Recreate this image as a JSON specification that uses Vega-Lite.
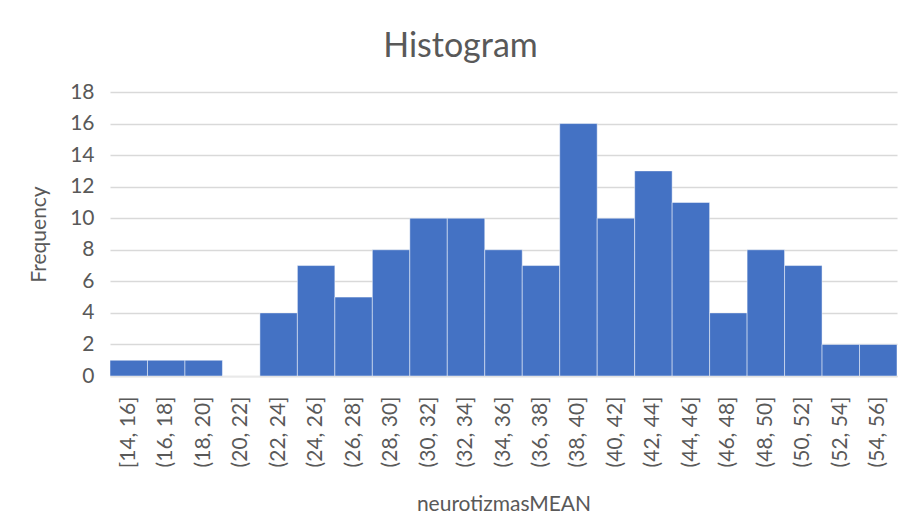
{
  "$schema": "https://vega.github.io/schema/vega-lite/v6.json",
  "autosize": "none",
  "width": 787,
  "height": 284,
  "padding": {"left": 110, "top": 92, "right": 6, "bottom": 152},
  "background": "white",
  "config": {"view": {"stroke": null}, "font": "Lato"},
  "title": {"text": "Histogram", "fontSize": 34, "font": "Lato", "fontWeight": "normal", "color": "#595959", "anchor": "middle", "dx": -43, "offset": 17},
  "data": {"values": [
    {"bin": "[14, 16]", "count": 1},
    {"bin": "(16, 18]", "count": 1},
    {"bin": "(18, 20]", "count": 1},
    {"bin": "(20, 22]", "count": 0},
    {"bin": "(22, 24]", "count": 4},
    {"bin": "(24, 26]", "count": 7},
    {"bin": "(26, 28]", "count": 5},
    {"bin": "(28, 30]", "count": 8},
    {"bin": "(30, 32]", "count": 10},
    {"bin": "(32, 34]", "count": 10},
    {"bin": "(34, 36]", "count": 8},
    {"bin": "(36, 38]", "count": 7},
    {"bin": "(38, 40]", "count": 16},
    {"bin": "(40, 42]", "count": 10},
    {"bin": "(42, 44]", "count": 13},
    {"bin": "(44, 46]", "count": 11},
    {"bin": "(46, 48]", "count": 4},
    {"bin": "(48, 50]", "count": 8},
    {"bin": "(50, 52]", "count": 7},
    {"bin": "(52, 54]", "count": 2},
    {"bin": "(54, 56]", "count": 2}
  ]},
  "mark": {"type": "bar", "color": "#4472C4", "stroke": "#ffffff", "strokeWidth": 0.8, "strokeOpacity": 0.6},
  "encoding": {
    "x": {
      "field": "bin", "type": "nominal", "sort": null,
      "scale": {"paddingInner": 0, "paddingOuter": 0},
      "axis": {
        "title": "neurotizmasMEAN", "titleFontSize": 21, "titleFont": "Lato", "titleFontWeight": "normal", "titleColor": "#595959", "titlePadding": 26,
        "labelAngle": -90, "labelFontSize": 21, "labelFont": "Lato", "labelColor": "#595959", "labelPadding": 20,
        "ticks": false, "domainColor": "#D9D9D9", "domainWidth": 1.5, "grid": false
      }
    },
    "y": {
      "field": "count", "type": "quantitative",
      "scale": {"domain": [0, 18]},
      "axis": {
        "title": "Frequency", "titleFontSize": 21, "titleFont": "Lato", "titleFontWeight": "normal", "titleColor": "#595959", "titlePadding": 20,
        "values": [0, 2, 4, 6, 8, 10, 12, 14, 16, 18],
        "labelFontSize": 21, "labelFont": "Lato", "labelColor": "#595959", "labelPadding": 16,
        "ticks": false, "domain": false, "grid": true, "gridColor": "#D9D9D9", "gridWidth": 1.5
      }
    }
  }
}
